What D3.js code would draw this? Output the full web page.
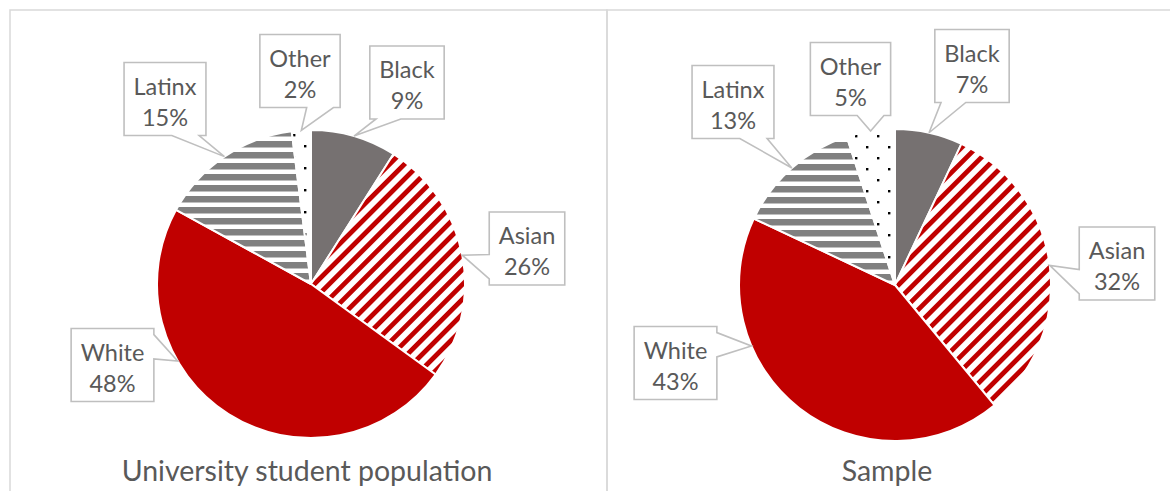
<!DOCTYPE html>
<html>
<head>
<meta charset="utf-8">
<script src="https://cdn.jsdelivr.net/npm/d3@7"></script>
<style>
  html, body { margin: 0; padding: 0; background: #fff; }
  svg { display: block; }
  text { font-family: Lato, "Open Sans", sans-serif; fill: #595959; }
</style>
</head>
<body>
<svg id="chart" width="1170" height="491"></svg>
<script>
// ---------- data ----------
const chartTitles = ["University student population", "Sample"];
const categories = ["Black", "Asian", "White", "Latinx", "Other"];
const universityValues = [9, 26, 48, 15, 2];
const sampleValues = [7, 32, 43, 13, 5];

// ---------- layout ----------
const svg = d3.select("#chart");
const defs = svg.append("defs");

const RED = "#C00000", GREY = "#767171", STRIPE_GREY = "#808080";

// patterns
const pA = defs.append("pattern").attr("id", "pAsian")
  .attr("patternUnits", "userSpaceOnUse").attr("width", 20).attr("height", 10.5)
  .attr("patternTransform", "rotate(-45)");
pA.append("rect").attr("width", 20).attr("height", 10.5).attr("fill", "#fff");
pA.append("rect").attr("width", 20).attr("height", 4.8).attr("fill", RED);

const pL = defs.append("pattern").attr("id", "pLatinx")
  .attr("patternUnits", "userSpaceOnUse").attr("width", 10).attr("height", 11);
pL.append("rect").attr("width", 10).attr("height", 11).attr("fill", "#fff");
pL.append("rect").attr("y", 0).attr("width", 10).attr("height", 6.5).attr("fill", STRIPE_GREY);

const pO = defs.append("pattern").attr("id", "pOther")
  .attr("patternUnits", "userSpaceOnUse").attr("width", 22).attr("height", 22);
pO.append("rect").attr("width", 22).attr("height", 22).attr("fill", "#fff");
pO.append("rect").attr("x", 4).attr("y", 4).attr("width", 2.4).attr("height", 2.4).attr("fill", "#000");
pO.append("rect").attr("x", 15).attr("y", 15).attr("width", 2.4).attr("height", 2.4).attr("fill", "#000");

const fillScale = d3.scaleOrdinal()
  .domain(categories)
  .range([GREY, "url(#pAsian)", RED, "url(#pLatinx)", "url(#pOther)"]);

// panel frames
svg.append("rect").attr("x", 10).attr("y", 10).attr("width", 597).attr("height", 520)
  .attr("fill", "none").attr("stroke", "#D9D9D9").attr("stroke-width", 1.5);
svg.append("rect").attr("x", 607).attr("y", 10).attr("width", 600).attr("height", 520)
  .attr("fill", "none").attr("stroke", "#D9D9D9").attr("stroke-width", 1.5);

const panels = [
  { title: chartTitles[0], values: universityValues, cx: 311, cy: 284, r: 154, titleX: 307,
    boxes: { Black: [407, 82.5], Asian: [527, 248.5], White: [112.5, 365], Latinx: [165, 99], Other: [300, 71] },
    tipOverride: { White: 240 } },
  { title: chartTitles[1], values: sampleValues, cx: 895, cy: 285, r: 156, titleX: 887,
    boxes: { Black: [972, 66], Asian: [1117, 263.5], White: [675.5, 363], Latinx: [733, 102], Other: [850.5, 79] },
    tipOverride: { White: 247 } }
];

const pie = d3.pie().sort(null).value(d => d.value).startAngle(0).endAngle(2 * Math.PI);

function calloutPath(x0, y0, w, h, tx, ty) {
  const cx = x0 + w / 2, cy = y0 + h / 2;
  const dx = (tx - cx) / w, dy = (ty - cy) / h;
  const x1 = x0 + w, y1 = y0 + h;
  let p = `M${x0},${y0}`;
  if (Math.abs(dx) > Math.abs(dy)) {
    const ya = ty < cy ? y0 + h / 12 : y0 + 7 * h / 12;
    const yb = ty < cy ? y0 + 5 * h / 12 : y0 + 11 * h / 12;
    if (dx > 0) {
      p += `L${x1},${y0}L${x1},${ya}L${tx},${ty}L${x1},${yb}L${x1},${y1}L${x0},${y1}Z`;
    } else {
      p += `L${x1},${y0}L${x1},${y1}L${x0},${y1}L${x0},${yb}L${tx},${ty}L${x0},${ya}Z`;
    }
  } else {
    const xa = tx < cx ? x0 + w / 12 : x0 + 7 * w / 12;
    const xb = tx < cx ? x0 + 5 * w / 12 : x0 + 11 * w / 12;
    if (dy > 0) {
      p += `L${x1},${y0}L${x1},${y1}L${xb},${y1}L${tx},${ty}L${xa},${y1}L${x0},${y1}Z`;
    } else {
      p += `L${xa},${y0}L${tx},${ty}L${xb},${y0}L${x1},${y0}L${x1},${y1}L${x0},${y1}Z`;
    }
  }
  return p;
}

panels.forEach(pn => {
  const data = categories.map((c, i) => ({ category: c, value: pn.values[i] }));
  const arcs = pie(data);
  const arc = d3.arc().innerRadius(0).outerRadius(pn.r);
  const g = svg.append("g").attr("transform", `translate(${pn.cx},${pn.cy})`);
  g.selectAll("path.slice").data(arcs).join("path")
    .attr("class", "slice")
    .attr("d", arc)
    .attr("fill", d => fillScale(d.data.category))
    .attr("stroke", "#fff").attr("stroke-width", 2).attr("stroke-linejoin", "round");

  // callouts
  const total = d3.sum(pn.values);
  arcs.forEach(a => {
    const cat = a.data.category;
    const [bx, by] = pn.boxes[cat];
    const lab = svg.append("g");
    const t1 = lab.append("text").attr("text-anchor", "middle").attr("font-size", 23.5)
      .attr("x", bx).attr("y", by - 36.5 + 32).text(cat);
    const t2 = lab.append("text").attr("text-anchor", "middle").attr("font-size", 23.5)
      .attr("x", bx).attr("y", by - 36.5 + 63)
      .text(d3.format(".0%")(a.data.value / total));
    const tw = Math.max(t1.node().getComputedTextLength(), t2.node().getComputedTextLength());
    const w = tw + 19, h = 73;
    const x0 = bx - w / 2, y0 = by - h / 2;
    const angDeg = pn.tipOverride[cat] !== undefined ? pn.tipOverride[cat]
      : ((a.startAngle + a.endAngle) / 2) * 180 / Math.PI;
    const ang = angDeg * Math.PI / 180;
    const tx = pn.cx + pn.r * Math.sin(ang), ty = pn.cy - pn.r * Math.cos(ang);
    lab.insert("path", "text")
      .attr("d", calloutPath(x0, y0, w, h, tx, ty))
      .attr("fill", "#fff").attr("stroke", "#BFBFBF").attr("stroke-width", 1.6)
      .attr("stroke-linejoin", "miter");
  });

  svg.append("text").attr("x", pn.titleX).attr("y", 481).attr("text-anchor", "middle")
    .attr("font-size", 28.5).text(pn.title);
});
</script>
</body>
</html>
